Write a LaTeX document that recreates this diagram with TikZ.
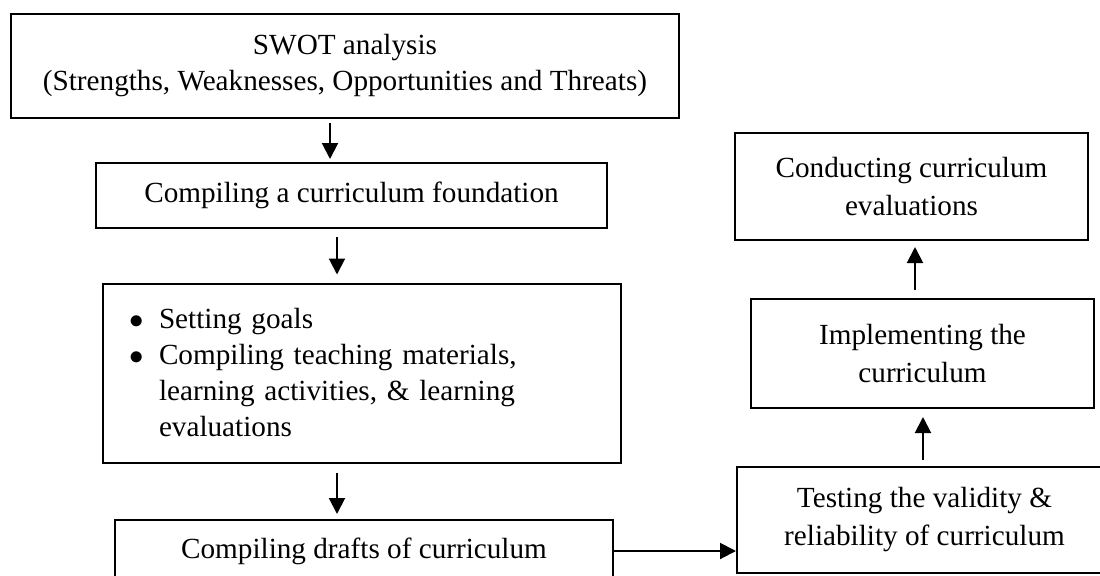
\documentclass[tikz,border=0pt]{standalone}
\usepackage{fontspec}
\setmainfont{Liberation Serif}
\usetikzlibrary{calc,arrows.meta}
\newcommand{\bulletmark}{\makebox[16pt][l]{\hspace*{1pt}$\bullet$}}
\begin{document}
\begin{tikzpicture}[x=0.5pt,y=-0.5pt,
  box/.style={draw=black,line width=1pt,rectangle,inner sep=0pt,align=center,
    font=\fontsize{14.6}{18}\selectfont},
  rbox/.style={box,font=\fontsize{14.6}{19}\selectfont},
  arr/.style={line width=1pt,-{Triangle[width=8pt,length=8pt]}}]
\useasboundingbox (0,0) rectangle (1100,575);
\clip (0,0) rectangle (1100,575);
\node[box,minimum width=334pt,minimum height=52pt] (b1) at (345,66)
  {SWOT analysis\\(Strengths, Weaknesses, Opportunities and Threats)};
\node[box,minimum width=255.5pt,minimum height=32.5pt] (b2) at (351.5,195.5)
  {Compiling a curriculum foundation};
\node[box,minimum width=259pt,minimum height=89.5pt,text width=235pt,inner xsep=12pt,align=left] (b3) at (362,373)
  {\bulletmark Setting goals\\
   \bulletmark Compiling teaching materials,\\
   \hspace*{16pt}learning activities, \& learning\\
   \hspace*{16pt}evaluations};
\node[box,minimum width=249pt,minimum height=31pt] (b4) at (364,551)
  {Compiling drafts of curriculum};
\node[rbox,minimum width=187.5pt,minimum height=53pt] (b5) at (924.5,520)
  {{Testing the validity \&}\\{reliability of curriculum}};
\node[rbox,minimum width=171.5pt,minimum height=54.5pt] (b6) at (922.5,353.5)
  {Implementing the\\curriculum};
\node[rbox,minimum width=176.5pt,minimum height=53.5pt] (b7) at (911.5,186.5)
  {Conducting curriculum\\evaluations};
\draw[arr] ($(b1.south)+(-15,4)$) -- ($(b2.north)+(-21.5,-3)$);
\draw[arr] ($(b2.south)+(-14.5,8)$) -- ($(b3.north)+(-25,-8)$);
\draw[arr] ($(b3.south)+(-25,9)$) -- ($(b4.north)+(-27,-5)$);
\draw[arr] (b4.east) -- (b4.east -| b5.west);
\draw[arr] ($(b5.north)+(-1.5,-6)$) -- ($(b6.south)+(0.5,8)$);
\draw[arr] ($(b6.north)+(-7.5,-8)$) -- ($(b7.south)+(3.5,6)$);
\end{tikzpicture}
\end{document}
